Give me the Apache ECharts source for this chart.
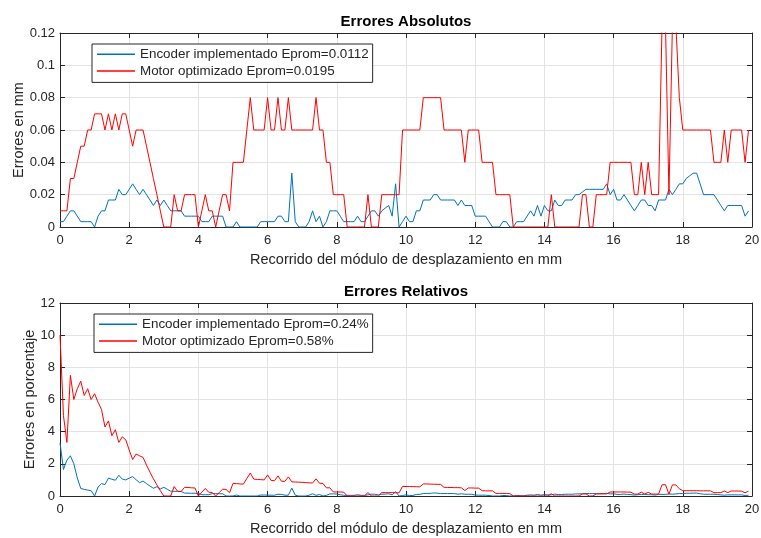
<!DOCTYPE html>
<html>
<head>
<meta charset="utf-8">
<script src="https://cdn.jsdelivr.net/npm/echarts@6/dist/echarts.min.js"></script>
<style>
html,body{margin:0;padding:0;background:#fff;}
#c{width:761px;height:538px;}
</style>
</head>
<body>
<div id="c"></div>
<script>
// ---- data ----
const xs = [0,0.1,0.2,0.3,0.4,0.5,0.6,0.7,0.8,0.9,1,1.1,1.2,1.3,1.4,1.5,1.6,1.7,1.8,1.9,2,2.1,2.2,2.3,2.4,2.5,2.6,2.7,2.8,2.9,3,3.1,3.2,3.3,3.4,3.5,3.6,3.7,3.8,3.9,4,4.1,4.2,4.3,4.4,4.5,4.6,4.7,4.8,4.9,5,5.1,5.2,5.3,5.4,5.5,5.6,5.7,5.8,5.9,6,6.1,6.2,6.3,6.4,6.5,6.6,6.7,6.8,6.9,7,7.1,7.2,7.3,7.4,7.5,7.6,7.7,7.8,7.9,8,8.1,8.2,8.3,8.4,8.5,8.6,8.7,8.8,8.9,9,9.1,9.2,9.3,9.4,9.5,9.6,9.7,9.8,9.9,10,10.1,10.2,10.3,10.4,10.5,10.6,10.7,10.8,10.9,11,11.1,11.2,11.3,11.4,11.5,11.6,11.7,11.8,11.9,12,12.1,12.2,12.3,12.4,12.5,12.6,12.7,12.8,12.9,13,13.1,13.2,13.3,13.4,13.5,13.6,13.7,13.8,13.9,14,14.1,14.2,14.3,14.4,14.5,14.6,14.7,14.8,14.9,15,15.1,15.2,15.3,15.4,15.5,15.6,15.7,15.8,15.9,16,16.1,16.2,16.3,16.4,16.5,16.6,16.7,16.8,16.9,17,17.1,17.2,17.3,17.4,17.5,17.6,17.7,17.8,17.9,18,18.1,18.2,18.3,18.4,18.5,18.6,18.7,18.8,18.9,19,19.1,19.2,19.3,19.4,19.5,19.6,19.7,19.8,19.9];

const encoderAbs = [
0.0033,0.0033,0.0067,0.01,0.01,0.0067,0.0033,0.0033,0.0033,0.0033,
0,0.0067,0.01,0.01,0.0167,0.0167,0.0167,0.0233,0.02,0.02,
0.0233,0.0267,0.0233,0.02,0.0233,0.02,0.0167,0.0133,0.0167,0.0133,
0.0167,0.0133,0.01,0.01,0.01,0.01,0.0067,0.0067,0.0067,0.0067,
0.0067,0.0033,0.0033,0.0033,0.0067,0.0067,0.0067,0.0067,0,0,
0,0.0033,0,0,0,0,0,0,0.0033,0.0033,
0.0033,0.0033,0.0033,0.0067,0.0067,0.0033,0.0033,0.0333,0.0033,0,
0,0,0.0033,0.01,0.0033,0.0067,0,0.0033,0.01,0.01,
0.01,0.0067,0.0033,0.0033,0.0033,0.0033,0.0067,0.0033,0.0033,0.0067,
0.01,0.01,0.0067,0.01,0.0117,0.0133,0.0067,0.0267,0,0.0033,
0.0067,0.0033,0.0033,0.01,0.01,0.0167,0.0167,0.0167,0.02,0.02,
0.0167,0.0167,0.0167,0.0167,0.0167,0.0133,0.0167,0.0133,0.0133,0.0133,
0.0067,0.0067,0.0067,0.0067,0.0033,0,0,0,0.0033,0.0033,
0,0,0.0033,0.0033,0.0033,0.0067,0.01,0.0067,0.0133,0.0067,
0.0133,0.01,0.01,0.0167,0.0133,0.0133,0.0167,0.0167,0.0167,0.02,
0.02,0.0217,0.0233,0.0233,0.0233,0.0233,0.0233,0.0233,0.0267,0.02,
0.0233,0.0167,0.0167,0.02,0.0167,0.0133,0.01,0.0133,0.0167,0.0167,
0.0133,0.0133,0.01,0.0167,0.0167,0.0167,0.0233,0.02,0.0233,0.0267,
0.0267,0.03,0.0317,0.0333,0.0333,0.0267,0.02,0.02,0.02,0.02,
0.0167,0.0133,0.01,0.0133,0.0133,0.0133,0.0133,0.0133,0.0067,0.01];

const motorAbs = [
0.01,0.01,0.01,0.03,0.03,0.04,0.05,0.05,0.06,0.06,
0.07,0.07,0.07,0.06,0.07,0.06,0.07,0.06,0.07,0.07,
0.06,0.05,0.06,0.06,0.06,0.05,0.04,0.03,0.02,0.01,
0,0,0,0.02,0.01,0.01,0.02,0.02,0.02,0.02,
0,0.01,0.02,0.01,0.01,0,0.01,0.02,0.02,0.01,
0.04,0.04,0.04,0.04,0.06,0.08,0.06,0.06,0.06,0.06,
0.08,0.06,0.06,0.08,0.06,0.06,0.08,0.06,0.06,0.06,
0.06,0.06,0.06,0.06,0.08,0.06,0.06,0.04,0.04,0.02,
0.02,0.02,0.02,0,0,0,0,0,0,0.02,
0,0,0,0.02,0.02,0.02,0.02,0.02,0.02,0.06,
0.06,0.06,0.06,0.06,0.06,0.08,0.08,0.08,0.08,0.08,
0.08,0.06,0.06,0.06,0.06,0.06,0.06,0.04,0.06,0.06,
0.06,0.06,0.04,0.04,0.04,0.04,0.02,0.02,0.02,0.02,
0.02,0,0,0,0,0,0,0,0,0,
0,0,0.02,0,0,0,0,0,0,0,
0,0.02,0.02,0,0,0.02,0.02,0.02,0.02,0.04,
0.04,0.04,0.04,0.04,0.04,0.04,0.02,0.02,0.04,0.02,
0.04,0.02,0.02,0.02,0.125,0.125,0.02,0.125,0.125,0.08,
0.06,0.06,0.06,0.06,0.06,0.06,0.06,0.06,0.06,0.04,
0.04,0.04,0.06,0.04,0.06,0.06,0.06,0.06,0.04,0.06];

const encoderRel = [
3.3,1.65,2.23,2.5,2,1.12,0.47,0.41,0.37,0.33,
0,0.56,0.77,0.71,1.11,1.04,0.98,1.29,1.05,1,
1.11,1.21,1.01,0.83,0.93,0.77,0.62,0.48,0.58,0.44,
0.54,0.42,0.3,0.29,0.29,0.28,0.18,0.18,0.17,0.17,
0.16,0.08,0.08,0.08,0.15,0.15,0.14,0.14,0,0,
0,0.06,0,0,0,0,0,0,0.06,0.06,
0.05,0.05,0.05,0.11,0.1,0.05,0.05,0.49,0.05,0,
0,0,0.05,0.14,0.04,0.09,0,0.04,0.13,0.13,
0.12,0.08,0.04,0.04,0.04,0.04,0.08,0.04,0.04,0.07,
0.11,0.11,0.07,0.11,0.12,0.14,0.07,0.27,0,0.03,
0.07,0.03,0.03,0.1,0.1,0.16,0.16,0.16,0.19,0.18,
0.15,0.15,0.15,0.15,0.15,0.11,0.14,0.11,0.11,0.11,
0.06,0.05,0.05,0.05,0.03,0,0,0,0.03,0.03,
0,0,0.03,0.02,0.02,0.05,0.07,0.05,0.1,0.05,
0.09,0.07,0.07,0.12,0.09,0.09,0.11,0.11,0.11,0.13,
0.13,0.14,0.15,0.15,0.15,0.15,0.15,0.15,0.17,0.13,
0.14,0.1,0.1,0.12,0.1,0.08,0.06,0.08,0.1,0.1,
0.08,0.08,0.06,0.1,0.1,0.1,0.13,0.11,0.13,0.15,
0.15,0.17,0.17,0.18,0.18,0.14,0.11,0.11,0.11,0.11,
0.09,0.07,0.05,0.07,0.07,0.07,0.07,0.07,0.03,0.05];

const motorRel = [
10,5,3.33,7.5,6,6.67,7.14,6.25,6.67,6,
6.36,5.83,5.38,4.29,4.67,3.75,4.12,3.33,3.68,3.5,
2.86,2.27,2.61,2.5,2.4,1.92,1.48,1.07,0.69,0.33,
0,0,0,0.59,0.29,0.28,0.54,0.53,0.51,0.5,
0,0.24,0.47,0.23,0.22,0,0.21,0.42,0.41,0.2,
0.78,0.77,0.75,0.74,1.09,1.43,1.05,1.03,1.02,1,
1.31,0.97,0.95,1.25,0.92,0.91,1.19,0.88,0.87,0.86,
0.85,0.83,0.82,0.81,1.07,0.79,0.78,0.51,0.51,0.25,
0.25,0.25,0.24,0,0,0,0,0,0,0.22,
0,0,0,0.21,0.21,0.21,0.21,0.2,0.2,0.6,
0.59,0.59,0.58,0.58,0.57,0.75,0.75,0.74,0.73,0.73,
0.72,0.54,0.53,0.53,0.52,0.52,0.51,0.34,0.5,0.5,
0.49,0.49,0.33,0.32,0.32,0.32,0.16,0.16,0.16,0.16,
0.15,0,0,0,0,0,0,0,0,0,
0,0,0.14,0,0,0,0,0,0,0,
0,0.13,0.13,0,0,0.13,0.13,0.13,0.13,0.25,
0.25,0.25,0.25,0.25,0.24,0.24,0.12,0.12,0.24,0.12,
0.23,0.12,0.12,0.12,0.7,0.7,0.11,0.69,0.69,0.45,
0.33,0.33,0.33,0.33,0.33,0.32,0.32,0.32,0.32,0.21,
0.21,0.21,0.31,0.21,0.31,0.31,0.31,0.3,0.2,0.3];

const xTicks = [0,2,4,6,8,10,12,14,16,18,20];
const yTicksAbs = [0,0.02,0.04,0.06,0.08,0.1,0.12];
const yTicksRel = [0,2,4,6,8,10,12];

const titles = ['Errores Absolutos','Errores Relativos'];
const xName = 'Recorrido del módulo de desplazamiento en mm';
const yNames = ['Errores en mm','Errores en porcentaje'];
const legendAbs = ['Encoder implementado Eprom=0.0112','Motor optimizado Eprom=0.0195'];
const legendRel = ['Encoder implementado Eprom=0.24%','Motor optimizado Eprom=0.58%'];

// ---- styles ----
const FONT = "'Liberation Sans', Arial, Helvetica, sans-serif";
const AX = '#262626';
const GRIDC = '#e3e3e3';
const BLUE = '#0072BD';
const RED = '#FF0000';

function pairs(a){ return xs.map((x,i)=>[x,a[i]]); }
function step(t){ return t[1]-t[0]; }
const fmt = v => String(+v.toFixed(2));

function xAxes(g){
  const base = {gridIndex:g, type:'value', min:xTicks[0], max:xTicks[xTicks.length-1], interval:step(xTicks)};
  return [
    Object.assign({}, base, {
      position:'bottom',
      axisLine:{show:true,onZero:false,lineStyle:{color:AX,width:1}},
      axisTick:{show:true,inside:true,length:5,lineStyle:{color:AX}},
      axisLabel:{color:AX,fontSize:13,fontFamily:FONT,margin:7,formatter:fmt},
      splitLine:{show:true,lineStyle:{color:GRIDC,width:1}},
      name:xName,nameLocation:'middle',nameGap:25,nameMoveOverlap:false,
      nameTextStyle:{color:AX,fontSize:14.5,fontFamily:FONT}
    }),
    Object.assign({}, base, {
      position:'top',
      axisLine:{show:true,onZero:false,lineStyle:{color:AX,width:1}},
      axisTick:{show:true,inside:true,length:5,lineStyle:{color:AX}},
      axisLabel:{show:false},
      splitLine:{show:false}
    })
  ];
}
function yAxes(g, ticks, name, gap){
  const base = {gridIndex:g, type:'value', min:ticks[0], max:ticks[ticks.length-1], interval:step(ticks)};
  return [
    Object.assign({}, base, {
      position:'left',
      axisLine:{show:true,onZero:false,lineStyle:{color:AX,width:1}},
      axisTick:{show:true,inside:true,length:5,lineStyle:{color:AX}},
      axisLabel:{color:AX,fontSize:13,fontFamily:FONT,margin:5,formatter:fmt},
      splitLine:{show:true,lineStyle:{color:GRIDC,width:1}},
      name:name,nameLocation:'middle',nameGap:gap,nameRotate:90,nameMoveOverlap:false,
      nameTextStyle:{color:AX,fontSize:14.5,fontFamily:FONT}
    }),
    Object.assign({}, base, {
      position:'right',
      axisLine:{show:true,onZero:false,lineStyle:{color:AX,width:1}},
      axisTick:{show:true,inside:true,length:5,lineStyle:{color:AX}},
      axisLabel:{show:false},
      splitLine:{show:false}
    })
  ];
}
function legend(names, left, top){
  return {
    data:names, orient:'vertical', left:left, top:top,
    padding:[2,4,3,5], itemGap:0, itemWidth:38, itemHeight:1.5, icon:'rect',
    borderColor:AX, borderWidth:1, backgroundColor:'#fff',
    textStyle:{color:AX,fontSize:13.4,fontFamily:FONT,lineHeight:16.7}
  };
}
function line(name, data, xi, yi, color){
  return {name:name, type:'line', xAxisIndex:xi, yAxisIndex:yi, data:pairs(data),
    showSymbol:false, symbol:'none', clip:true,
    lineStyle:{color:color,width:1}, itemStyle:{color:color}, emphasis:{disabled:true}};
}

const chart = echarts.init(document.getElementById('c'), null, {renderer:'canvas'});
chart.setOption({
  animation:false,
  backgroundColor:'#fff',
  title:[
    {text:titles[0], left:406, top:14, textAlign:'center', padding:0,
     textStyle:{fontSize:15,fontWeight:'bold',color:'#000',fontFamily:FONT}},
    {text:titles[1], left:406, top:284, textAlign:'center', padding:0,
     textStyle:{fontSize:15,fontWeight:'bold',color:'#000',fontFamily:FONT}}
  ],
  legend:[legend(legendAbs,92,44), legend(legendRel,94,314)],
  grid:[
    {left:60, top:33, width:692, height:194, outerBoundsMode:'none', containLabel:false},
    {left:60, top:303, width:692, height:193, outerBoundsMode:'none', containLabel:false}
  ],
  xAxis:[].concat(xAxes(0), xAxes(1)),
  yAxis:[].concat(yAxes(0,yTicksAbs,yNames[0],34), yAxes(1,yTicksRel,yNames[1],23)),
  series:[
    line(legendAbs[0], encoderAbs, 0, 0, BLUE),
    line(legendAbs[1], motorAbs, 0, 0, RED),
    line(legendRel[0], encoderRel, 2, 2, BLUE),
    line(legendRel[1], motorRel, 2, 2, RED)
  ]
});
</script>
</body>
</html>
